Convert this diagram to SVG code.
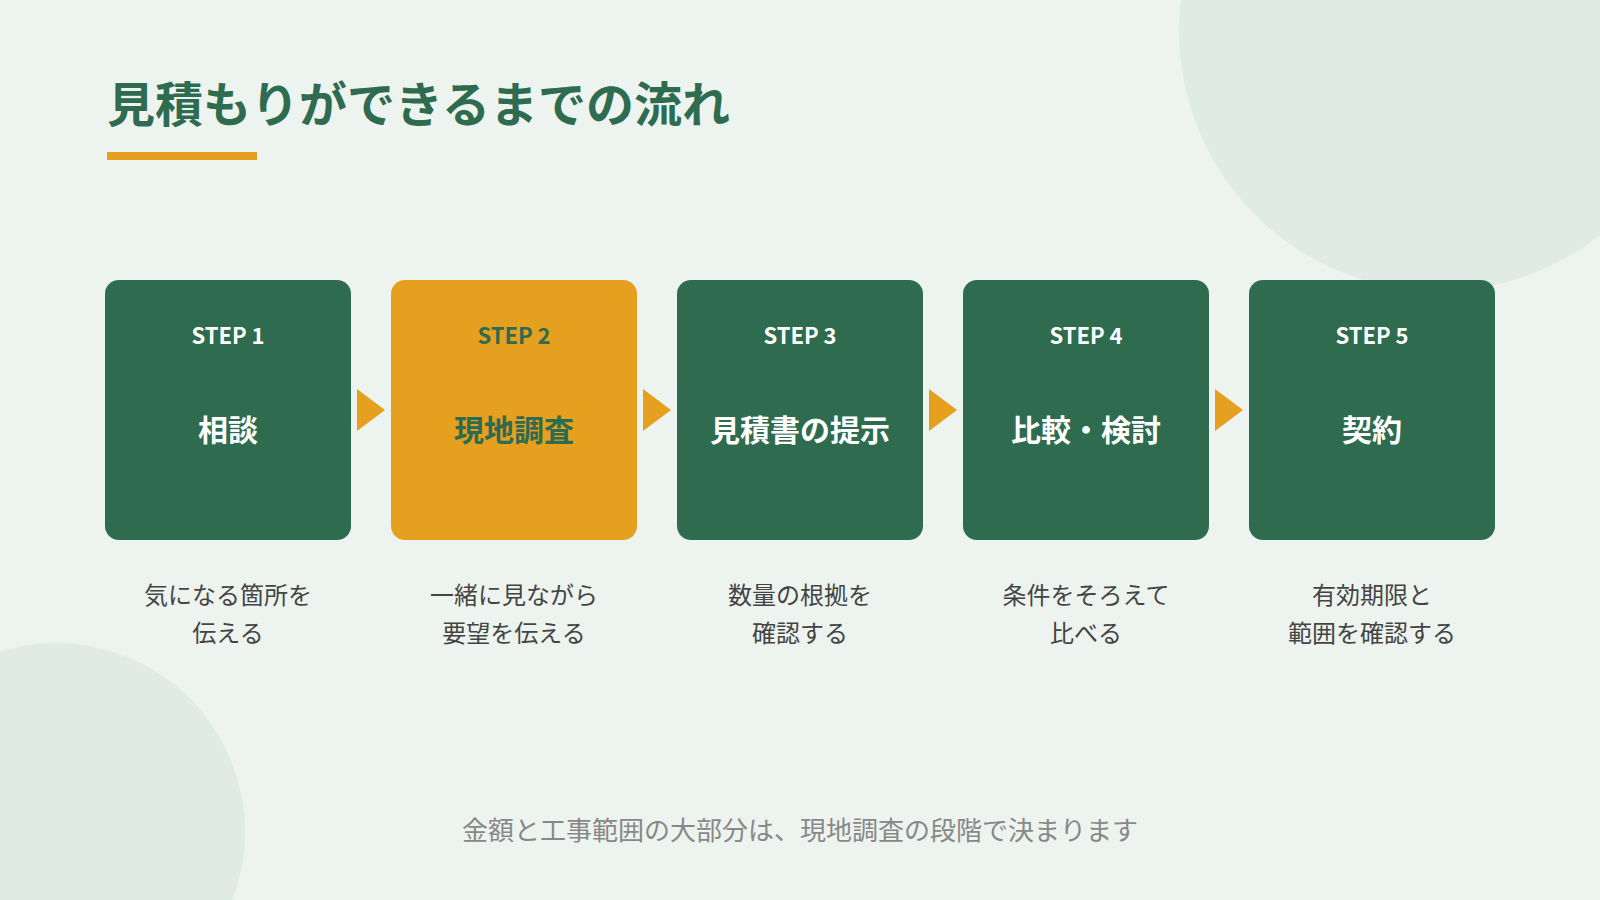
<svg xmlns="http://www.w3.org/2000/svg" width="1600" height="900" viewBox="0 0 1600 900">
<style>
text{font-family:"Noto Sans CJK JP","Noto Sans",sans-serif;text-anchor:middle}
.box{fill:#2e6b4f}
.hl{fill:#e6a020}
.step{font-size:22px;font-weight:700;fill:#fff}
.main{font-size:30px;font-weight:700;fill:#fff}
.desc{font-size:24px;fill:#444}
.arr{fill:#e6a020}
</style>
<rect width="1600" height="900" fill="#edf4ef"/>
<circle cx="1439" cy="31" r="260" fill="#dfebe4"/>
<circle cx="56" cy="832" r="189" fill="#dfebe4"/>
<text x="107" y="122" style="text-anchor:start;font-size:48px;font-weight:700;fill:#2e6b4f">見積もりができるまでの流れ</text>
<rect x="107" y="152" width="150" height="8" fill="#e6a020"/>
<g id="connectors">
<polygon class="arr" points="357,389 385,410 357,431"/>
<polygon class="arr" points="643,389 671,410 643,431"/>
<polygon class="arr" points="929,389 957,410 929,431"/>
<polygon class="arr" points="1215,389 1243,410 1215,431"/>
</g>
<g id="step1"><rect class="box" x="105" y="280" width="246" height="260" rx="14"/>
<text class="step" x="228" y="344">STEP 1</text><text class="main" x="228" y="441">相談</text>
<text class="desc" x="228" y="604">気になる箇所を</text><text class="desc" x="228" y="642">伝える</text></g>
<g id="step2"><rect class="hl" x="391" y="280" width="246" height="260" rx="14"/>
<text class="step" x="514" y="344" style="fill:#2e6b4f">STEP 2</text><text class="main" x="514" y="441" style="fill:#2e6b4f">現地調査</text>
<text class="desc" x="514" y="604">一緒に見ながら</text><text class="desc" x="514" y="642">要望を伝える</text></g>
<g id="step3"><rect class="box" x="677" y="280" width="246" height="260" rx="14"/>
<text class="step" x="800" y="344">STEP 3</text><text class="main" x="800" y="441">見積書の提示</text>
<text class="desc" x="800" y="604">数量の根拠を</text><text class="desc" x="800" y="642">確認する</text></g>
<g id="step4"><rect class="box" x="963" y="280" width="246" height="260" rx="14"/>
<text class="step" x="1086" y="344">STEP 4</text><text class="main" x="1086" y="441">比較・検討</text>
<text class="desc" x="1086" y="604">条件をそろえて</text><text class="desc" x="1086" y="642">比べる</text></g>
<g id="step5"><rect class="box" x="1249" y="280" width="246" height="260" rx="14"/>
<text class="step" x="1372" y="344">STEP 5</text><text class="main" x="1372" y="441">契約</text>
<text class="desc" x="1372" y="604">有効期限と</text><text class="desc" x="1372" y="642">範囲を確認する</text></g>
<text x="800" y="840" style="font-size:26px;fill:#888">金額と工事範囲の大部分は、現地調査の段階で決まります</text>
</svg>
